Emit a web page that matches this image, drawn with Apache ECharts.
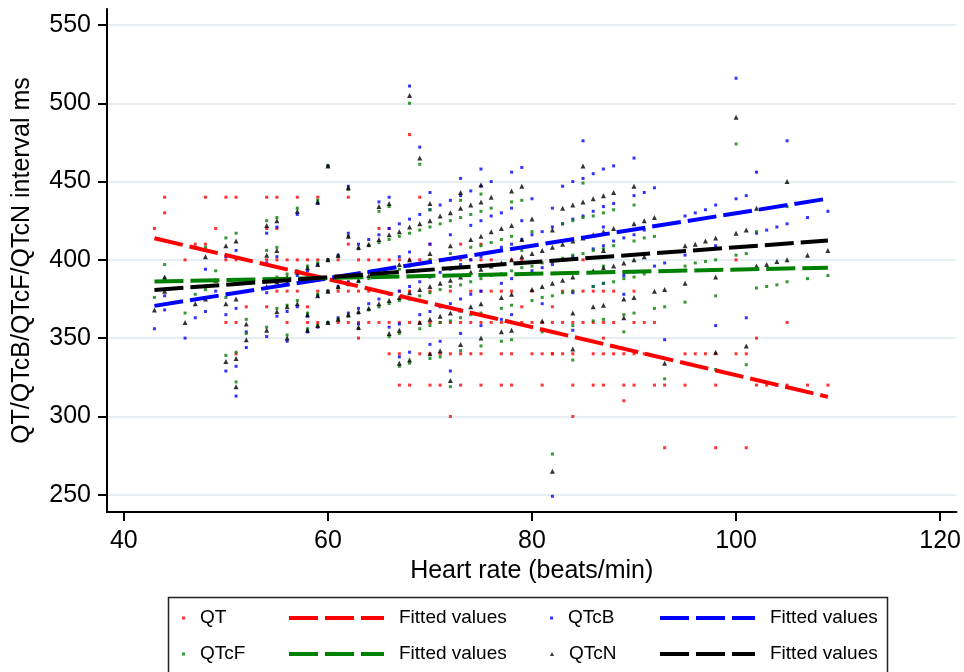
<!DOCTYPE html>
<html>
<head>
<meta charset="utf-8">
<script src="https://cdn.jsdelivr.net/npm/echarts@6/dist/echarts.min.js"></script>
<style>
  html, body { margin: 0; padding: 0; background: #fff; }
  #chart { width: 964px; height: 672px; }
</style>
</head>
<body>
<div id="chart"></div>
<script>
// one entry per subject, grouped by heart rate (one line per rate)
var heartRate = [
  43, 44, 44, 46, 47, 48, 48, 49,
  50, 50, 50, 51, 51, 51, 51, 52, 52,
  54, 54, 54, 54, 55, 55, 55, 55, 56, 56, 56, 57, 57, 57, 58, 58, 58, 59, 59, 59, 59,
  60, 60, 60, 60, 61, 61, 61, 62, 62, 62, 62, 63, 63, 63, 63, 64, 64, 64, 65, 65, 65, 66, 66, 66, 66,
  67, 67, 67, 67, 67, 68, 68, 68, 68, 68, 69, 69, 69, 69,
  70, 70, 70, 70, 70, 70, 71, 71, 71, 71, 72, 72, 72, 72, 72, 73, 73, 73, 73, 73, 74, 74, 74, 74,
  75, 75, 75, 75, 75, 75, 76, 76, 76, 77, 77, 77, 77, 78, 78, 78, 78, 78, 79, 79, 79,
  80, 80, 80, 81, 81, 81, 82, 82, 82, 82, 83, 83, 83, 84, 84, 84, 84, 84, 85, 85, 85,
  86, 86, 86, 86, 87, 87, 87, 87, 87, 88, 88, 88, 89, 89, 89,
  90, 90, 90, 90, 91, 91, 92, 92, 93, 93, 95, 95, 96, 97, 98, 98, 98,
  100, 100, 101, 101, 102, 102, 103, 104, 105, 105, 107, 109
];
var qt = [
  420, 440, 430, 400, 410, 440, 410, 420,
  440, 400, 360, 440, 400, 360, 340, 380, 370,
  440, 420, 400, 370, 440, 420, 400, 380, 400, 380, 360, 440, 400, 380, 400, 370, 360, 440, 400, 380, 360,
  460, 400, 380, 360, 400, 380, 360, 440, 410, 380, 360, 400, 380, 360, 350, 400, 380, 360, 420, 400, 360, 420, 400, 360, 340,
  400, 380, 360, 340, 320, 480, 400, 380, 360, 320, 440, 400, 360, 340,
  410, 400, 380, 360, 340, 320, 400, 360, 340, 320, 400, 380, 360, 340, 300, 410, 400, 360, 340, 320, 400, 380, 360, 340,
  410, 400, 380, 360, 340, 320, 400, 380, 360, 380, 360, 340, 320, 400, 380, 360, 340, 320, 400, 370, 360,
  380, 360, 340, 360, 340, 320, 370, 360, 340, 340, 380, 360, 340, 380, 360, 340, 320, 300, 400, 380, 360,
  380, 360, 340, 320, 380, 360, 350, 340, 320, 380, 360, 340, 340, 320, 310,
  380, 360, 340, 320, 360, 340, 360, 320, 320, 280, 340, 320, 340, 340, 340, 320, 280,
  400, 340, 340, 280, 350, 320, 320, 320, 360, 320, 320, 320
];
var qtcB = [
  356, 377, 368, 350, 363, 394, 367, 380,
  402, 365, 329, 406, 369, 332, 313, 354, 344,
  417, 398, 379, 351, 421, 402, 383, 364, 386, 367, 348, 429, 390, 370, 393, 364, 354, 436, 397, 377, 357,
  460, 400, 380, 360, 403, 383, 363, 447, 417, 386, 366, 410, 389, 369, 359, 413, 392, 372, 437, 416, 375, 440, 420, 378, 357,
  423, 402, 380, 359, 338, 511, 426, 405, 383, 341, 472, 429, 386, 365,
  443, 432, 410, 389, 367, 346, 435, 392, 370, 348, 438, 416, 394, 372, 329, 452, 441, 397, 375, 353, 444, 422, 400, 378,
  458, 447, 425, 402, 380, 358, 450, 428, 405, 430, 408, 385, 362, 456, 433, 410, 388, 365, 459, 425, 413,
  439, 416, 393, 418, 395, 372, 433, 421, 397, 249, 447, 423, 400, 450, 426, 402, 379, 355, 476, 452, 428,
  455, 431, 407, 383, 458, 434, 421, 409, 385, 460, 436, 412, 414, 390, 378,
  465, 441, 416, 392, 443, 419, 446, 396, 398, 349, 428, 403, 430, 432, 435, 409, 358,
  516, 439, 441, 363, 456, 417, 419, 421, 476, 423, 427, 431
];
var qtcF = [
  376, 397, 388, 366, 378, 408, 381, 393,
  414, 376, 339, 417, 379, 341, 322, 362, 353,
  425, 406, 386, 357, 427, 408, 389, 369, 391, 371, 352, 433, 393, 374, 396, 366, 356, 438, 398, 378, 358,
  460, 400, 380, 360, 402, 382, 362, 445, 415, 384, 364, 407, 386, 366, 356, 409, 388, 368, 431, 411, 370, 434, 413, 372, 351,
  415, 394, 374, 353, 332, 500, 417, 396, 375, 334, 461, 419, 377, 356,
  432, 421, 400, 379, 358, 337, 423, 381, 360, 338, 425, 404, 383, 361, 319, 438, 427, 384, 363, 342, 429, 408, 386, 365,
  442, 431, 409, 388, 366, 345, 433, 411, 390, 413, 391, 369, 348, 437, 415, 393, 371, 349, 438, 406, 395,
  418, 396, 374, 398, 376, 354, 411, 399, 377, 276, 423, 401, 379, 425, 403, 380, 358, 336, 449, 427, 404,
  428, 406, 383, 361, 430, 407, 396, 385, 362, 432, 409, 386, 388, 365, 354,
  435, 412, 389, 366, 414, 391, 415, 369, 370, 324, 396, 373, 398, 399, 400, 377, 330,
  474, 403, 404, 333, 418, 382, 383, 384, 434, 386, 388, 390
];
var qtcN = [
  368, 389, 380, 360, 372, 402, 375, 387,
  409, 372, 335, 412, 375, 337, 319, 359, 349,
  422, 403, 383, 355, 425, 406, 386, 367, 389, 370, 350, 431, 392, 372, 395, 365, 355, 437, 397, 377, 358,
  460, 400, 380, 360, 403, 383, 362, 446, 415, 385, 365, 408, 387, 367, 357, 410, 390, 369, 434, 413, 372, 436, 416, 374, 353,
  418, 397, 376, 355, 334, 505, 421, 400, 379, 336, 465, 423, 381, 360,
  436, 425, 404, 383, 362, 340, 428, 385, 364, 342, 430, 409, 387, 366, 323, 443, 433, 389, 368, 346, 435, 413, 392, 370,
  448, 437, 415, 394, 372, 350, 440, 418, 396, 420, 398, 376, 354, 444, 422, 400, 378, 355, 447, 413, 402,
  426, 404, 381, 406, 383, 361, 419, 408, 385, 265, 433, 410, 387, 435, 412, 389, 366, 343, 460, 437, 414,
  439, 416, 393, 370, 441, 418, 406, 395, 371, 443, 420, 396, 398, 375, 363,
  447, 423, 400, 376, 425, 402, 427, 380, 381, 334, 409, 385, 410, 412, 414, 389, 341,
  491, 417, 419, 345, 433, 396, 397, 399, 450, 400, 403, 406
];

// fitted lines, read at both ends of the heart-rate range
var fitHeartRate = [43, 109];
var qtFit = [413.8, 312.5];
var qtcBFit = [370.6, 439.1];
var qtcFFit = [386.1, 395.0];
var qtcNFit = [380.8, 412.3];

var xTicks = [40, 60, 80, 100, 120];
var yTicks = [250, 300, 350, 400, 450, 500, 550];

var RED = '#ff0000', BLUE = '#0000ff', GREEN = '#008000', BLACK = '#000000';
var FONT = '"Liberation Sans", Arial, sans-serif';
var DASH = [29, 7];

function pairs(xs, ys) {
  return xs.map(function (x, i) { return [x, ys[i]]; });
}

function dots(name, values, color, symbol, size) {
  return {
    name: name,
    type: 'scatter',
    data: pairs(heartRate, values),
    symbol: symbol,
    symbolSize: size,
    itemStyle: { color: color },
    silent: true
  };
}

function fit(name, values, color) {
  return {
    name: name,
    type: 'line',
    data: pairs(fitHeartRate, values),
    symbol: 'none',
    lineStyle: { color: color, width: 4, type: DASH },
    itemStyle: { color: color },
    silent: true
  };
}

// legend cells: [series name, left, top, icon width, icon height]
var legendCells = [
  ['QT', 182, 608, 3, 3],
  ['QTcF', 182, 644, 3, 3],
  ['QT fit', 287, 608, 95, 4],
  ['QTcF fit', 287, 644, 95, 4],
  ['QTcB', 550, 608, 3, 3],
  ['QTcN', 550, 644, 4, 4],
  ['QTcB fit', 658, 608, 95, 4],
  ['QTcN fit', 658, 644, 95, 4]
];

var legends = legendCells.map(function (c) {
  var isFit = c[3] > 10;
  return {
    data: [c[0]],
    left: c[1],
    top: c[2],
    padding: 0,
    itemWidth: c[3],
    itemHeight: c[4],
    selectedMode: false,
    lineStyle: { width: 4, type: DASH },
    formatter: function (n) { return isFit ? 'Fitted values' : n; },
    textStyle: {
      fontFamily: FONT,
      fontSize: 19,
      lineHeight: 20,
      color: '#000',
      padding: [0, 0, 0, 10]
    }
  };
});

var chart = echarts.init(document.getElementById('chart'), null, { renderer: 'canvas' });

chart.setOption({
  animation: false,
  backgroundColor: '#fff',
  grid: { left: 107, right: 6, top: 9, bottom: 160, containLabel: false },
  legend: legends,
  xAxis: {
    type: 'value',
    min: 38.35,
    max: 121.6,
    name: 'Heart rate (beats/min)',
    nameLocation: 'middle',
    nameGap: 41,
    nameTextStyle: { fontFamily: FONT, fontSize: 25, color: '#000' },
    axisLine: { onZero: false, lineStyle: { color: '#000', width: 2 } },
    axisTick: { customValues: xTicks, length: 9, lineStyle: { color: '#000', width: 2 } },
    axisLabel: { customValues: xTicks, margin: 17, fontFamily: FONT, fontSize: 25, color: '#000' },
    splitLine: { show: false }
  },
  yAxis: {
    type: 'value',
    min: 238.95,
    max: 560.2,
    name: 'QT/QTcB/QTcF/QTcN interval ms',
    nameLocation: 'middle',
    nameGap: 72,
    nameTextStyle: { fontFamily: FONT, fontSize: 25, color: '#000' },
    axisLine: { show: true, onZero: false, lineStyle: { color: '#000', width: 2 } },
    axisTick: { show: true, customValues: yTicks, length: 9, lineStyle: { color: '#000', width: 2 } },
    axisLabel: { customValues: yTicks, margin: 16, fontFamily: FONT, fontSize: 25, color: '#000' },
    splitLine: { show: true, lineStyle: { color: '#e6eef2', width: 2 } }
  },
  graphic: [{
    type: 'rect',
    silent: true,
    shape: { x: 168.5, y: 597.5, width: 719, height: 120 },
    style: { fill: 'none', stroke: '#222', lineWidth: 1.5 }
  }],
  series: [
    dots('QT', qt, RED, 'rect', 3),
    fit('QT fit', qtFit, RED),
    dots('QTcB', qtcB, BLUE, 'rect', 3),
    fit('QTcB fit', qtcBFit, BLUE),
    dots('QTcF', qtcF, GREEN, 'rect', 3),
    fit('QTcF fit', qtcFFit, GREEN),
    dots('QTcN', qtcN, BLACK, 'triangle', 5),
    fit('QTcN fit', qtcNFit, BLACK)
  ]
});

window.addEventListener('resize', function () {
  chart.resize();
});
</script>
</body>
</html>
